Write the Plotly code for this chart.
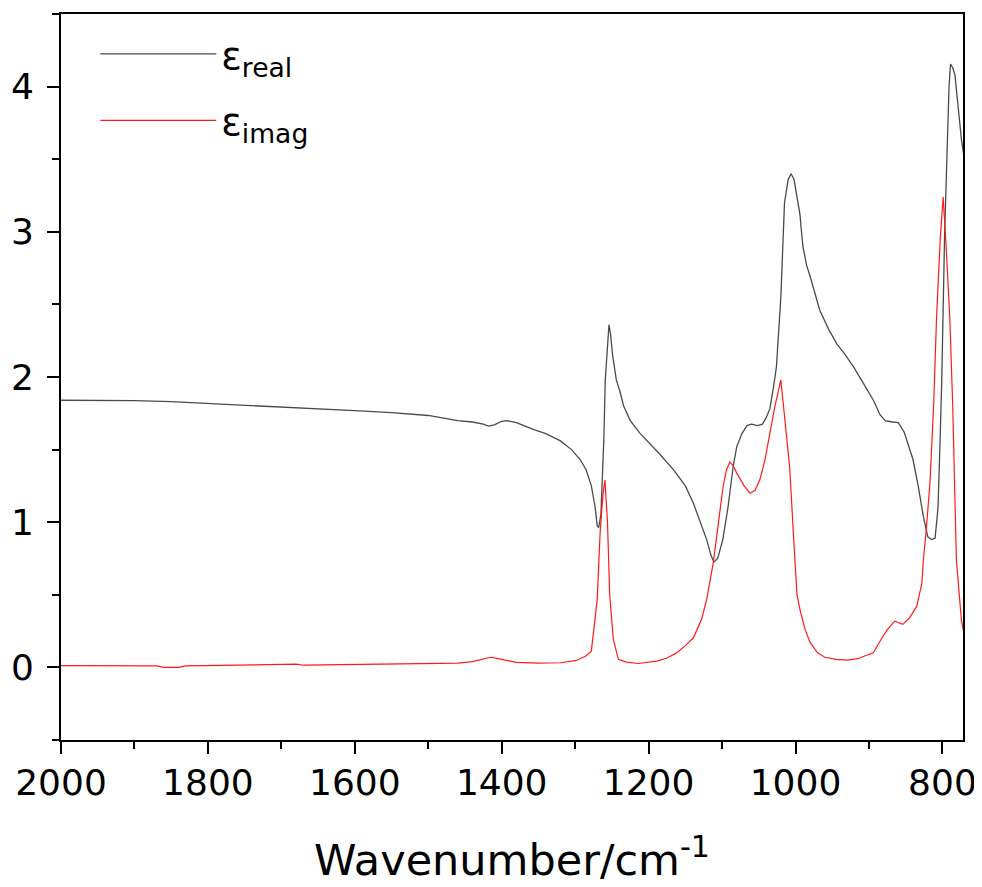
import plotly.graph_objects as go

# ---- data ----
real_x = [2000, 1950, 1900, 1850, 1800, 1750, 1700, 1650, 1600, 1550, 1500, 1460, 1440, 1425,
          1418, 1410, 1400, 1393, 1380, 1357, 1340, 1320, 1305, 1293, 1285, 1278, 1273, 1270,
          1268, 1265, 1263, 1261, 1259, 1256, 1254, 1252, 1249, 1244, 1239, 1234, 1225, 1212,
          1200, 1185, 1166, 1150, 1139, 1130, 1121, 1115, 1111, 1106, 1099, 1092, 1085, 1080,
          1073, 1066, 1060, 1052, 1045, 1040, 1035, 1030, 1026, 1020, 1015, 1010, 1006, 1002,
          997, 994, 990, 985, 980, 976, 967, 955, 944, 932, 921, 908, 894, 885, 878, 868, 860,
          852, 840, 833, 826, 820, 815, 810, 806, 803, 801, 797, 794, 791, 789, 786, 783, 778,
          774, 770]
real_y = [1.840, 1.839, 1.837, 1.830, 1.818, 1.808, 1.797, 1.783, 1.768, 1.755, 1.735, 1.700,
          1.690, 1.675, 1.662, 1.670, 1.695, 1.700, 1.685, 1.640, 1.610, 1.560, 1.500, 1.430,
          1.360, 1.250, 1.110, 0.975, 0.962, 1.050, 1.300, 1.570, 1.980, 2.250, 2.360, 2.300,
          2.150, 1.980, 1.900, 1.800, 1.700, 1.613, 1.550, 1.470, 1.360, 1.250, 1.130, 1.010,
          0.880, 0.770, 0.726, 0.750, 0.880, 1.100, 1.380, 1.520, 1.610, 1.665, 1.675, 1.665,
          1.675, 1.720, 1.780, 1.930, 2.070, 2.550, 3.200, 3.360, 3.400, 3.360, 3.220, 3.120,
          2.900, 2.770, 2.690, 2.620, 2.460, 2.330, 2.230, 2.150, 2.070, 1.960, 1.840, 1.740,
          1.700, 1.690, 1.686, 1.620, 1.430, 1.250, 1.040, 0.900, 0.880, 0.890, 1.100, 1.600,
          1.960, 2.990, 3.550, 4.000, 4.155, 4.130, 4.080, 3.850, 3.630, 3.500]

imag_x = [2000, 1950, 1900, 1870, 1860, 1840, 1830, 1800, 1750, 1700, 1680, 1670, 1600, 1550,
          1500, 1460, 1440, 1425, 1415, 1405, 1395, 1380, 1350, 1320, 1298, 1285, 1278, 1273,
          1270, 1266, 1262, 1259.5, 1256, 1253, 1248, 1241, 1230, 1214, 1200, 1189, 1175, 1162,
          1150, 1139, 1128, 1121, 1112, 1105, 1098.6, 1094, 1089.4, 1085, 1080, 1070, 1062,
          1055, 1048.6, 1042, 1035, 1028, 1020, 1014, 1008, 1003, 998, 994, 987, 980, 970, 960,
          945, 930, 915, 905, 894, 885, 875, 865, 860, 854, 845, 835, 828, 826, 822, 817, 812,
          808, 803, 799, 795, 790, 786, 783, 781, 776.5, 774, 770]
imag_y = [0.012, 0.012, 0.012, 0.010, 0.000, 0.000, 0.010, 0.012, 0.015, 0.018, 0.022, 0.015,
          0.020, 0.022, 0.025, 0.030, 0.040, 0.055, 0.070, 0.060, 0.050, 0.035, 0.030, 0.032,
          0.048, 0.080, 0.112, 0.330, 0.467, 0.930, 1.200, 1.290, 1.000, 0.500, 0.190, 0.055,
          0.036, 0.027, 0.035, 0.043, 0.065, 0.100, 0.150, 0.204, 0.330, 0.467, 0.720, 0.980,
          1.246, 1.360, 1.414, 1.390, 1.338, 1.250, 1.200, 1.220, 1.292, 1.420, 1.613, 1.800,
          1.980, 1.700, 1.380, 0.930, 0.500, 0.400, 0.260, 0.170, 0.100, 0.070, 0.055, 0.050,
          0.060, 0.080, 0.100, 0.180, 0.260, 0.318, 0.310, 0.296, 0.340, 0.420, 0.580, 0.740,
          0.950, 1.270, 1.800, 2.410, 2.950, 3.240, 2.900, 2.410, 1.800, 1.270, 0.740, 0.467,
          0.318, 0.220]

x_tickvals = [2000, 1800, 1600, 1400, 1200, 1000, 800]
y_tickvals = [0, 1, 2, 3, 4]

FONT = "DejaVu Sans"

fig = go.Figure()
fig.add_trace(go.Scatter(
    x=real_x, y=real_y, mode="lines", name="ε<sub>real</sub>",
    legendgroup="a",
    line=dict(color="#4a4a4a", width=1.3)))
fig.add_trace(go.Scatter(
    x=imag_x, y=imag_y, mode="lines", name="ε<sub>imag</sub>",
    legendgroup="b",
    line=dict(color="#ff1a1a", width=1.2)))

axis_common = dict(
    showgrid=False, zeroline=False, showline=True, linecolor="black", linewidth=2,
    mirror=True, ticks="outside", ticklen=12, tickwidth=2, tickcolor="black",
    tickfont=dict(family=FONT, size=36, color="black"), automargin=False,
)

fig.update_xaxes(
    **axis_common,
    range=[2000, 772], tickvals=x_tickvals, ticklabelstandoff=-2,
    minor=dict(dtick=100, ticks="outside", ticklen=7, tickwidth=2, tickcolor="black"),
    title=dict(text="Wavenumber/cm<sup>-1</sup>", font=dict(family=FONT, size=43, color="black"),
               standoff=43),
)
fig.update_yaxes(
    **axis_common,
    range=[-0.5, 4.5], tickvals=y_tickvals, ticklabelstandoff=6,
    minor=dict(dtick=0.5, tick0=0, ticks="outside", ticklen=7, tickwidth=2, tickcolor="black"),
)

fig.update_layout(
    width=974, height=879,
    margin=dict(l=53, r=19, t=6, b=147),
    paper_bgcolor="white", plot_bgcolor="white",
    showlegend=True,
    legend=dict(
        x=0.038, y=0.988, xanchor="left", yanchor="top",
        font=dict(family=FONT, size=38, color="black"),
        bgcolor="rgba(0,0,0,0)", borderwidth=0,
        traceorder="grouped", tracegroupgap=14, itemwidth=116,
    ),
)

fig.write_html("out.html")
